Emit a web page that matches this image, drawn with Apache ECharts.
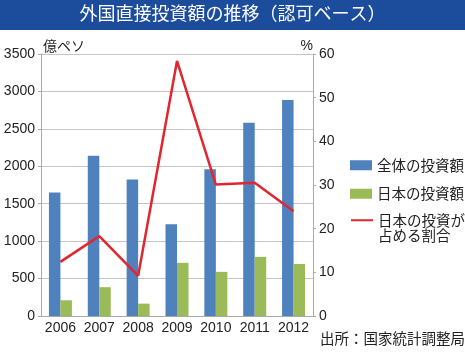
<!DOCTYPE html>
<html>
<head>
<meta charset="utf-8">
<script src="https://cdn.jsdelivr.net/npm/echarts@6/dist/echarts.min.js"></script>
<style>
  html, body { margin: 0; padding: 0; background: #fff; }
  #chart { width: 465px; height: 354px; }
</style>
</head>
<body>
<div id="chart"></div>
<script>
const years = ['2006', '2007', '2008', '2009', '2010', '2011', '2012'];
const totalInvest = [1650, 2140, 1825, 1225, 1960, 2580, 2885];
const japanInvest = [210, 385, 165, 710, 590, 790, 695];
const japanShare = [12.4, 18.3, 9.2, 58.4, 30.1, 30.5, 24.0];

const FONT = '"Liberation Sans", "Noto Sans CJK JP", sans-serif';
const JP = '"Noto Sans CJK JP", sans-serif';

const chart = echarts.init(document.getElementById('chart'));

chart.setOption({
  backgroundColor: '#fff',
  animation: false,
  textStyle: { fontFamily: FONT },
  graphic: [
    { type: 'rect', left: 0, top: 0, shape: { width: 465, height: 30 }, style: { fill: '#1c4c9c' } },
  ],
  title: [
    {
      text: '外国直接投資額の推移（認可ベース）',
      left: 'center', top: 4, padding: 0,
      textStyle: { color: '#fff', fontSize: 18, fontWeight: 'normal', fontFamily: JP },
    },
    {
      text: '出所：国家統計調整局',
      right: 0, top: 331, padding: 0,
      textStyle: { color: '#222', fontSize: 14.5, fontWeight: 'normal', fontFamily: JP },
    },
  ],
  grid: { left: 41, right: 152, top: 54, bottom: 38, outerBoundsMode: 'none' },
  legend: [
    {
      orient: 'vertical', left: 345, top: 153,
      itemWidth: 22, itemHeight: 10, itemGap: 14,
      textStyle: { fontSize: 14.5, color: '#222', fontFamily: JP },
      data: [
        { name: '全体の投資額', icon: 'rect' },
        { name: '日本の投資額', icon: 'rect' },
      ],
    },
    {
      // leading blank line keeps the icon level with the first text line
      orient: 'vertical', left: 345, top: 192,
      itemWidth: 22, itemHeight: 10,
      formatter: name => '\n' + name,
      textStyle: { fontSize: 14.5, color: '#222', fontFamily: JP, lineHeight: 15.5 },
      data: [
        { name: '日本の投資が\n占める割合', itemStyle: { opacity: 0 } },
      ],
    },
  ],
  xAxis: {
    type: 'category', data: years,
    axisLine: { lineStyle: { color: '#aaa' } },
    axisTick: { length: 4, lineStyle: { color: '#aaa' } },
    axisLabel: { color: '#222', fontSize: 14, margin: 5, interval: 0 },
  },
  yAxis: [
    {
      type: 'value', min: 0, max: 3500, interval: 500,
      name: '億ペソ', nameGap: 1,
      nameTextStyle: { align: 'left', color: '#222', fontSize: 14, fontFamily: JP, padding: [0, 0, 0, 2] },
      axisLine: { show: true, lineStyle: { color: '#aaa' } },
      axisTick: { show: true, length: 3, lineStyle: { color: '#aaa' } },
      axisLabel: { color: '#222', fontSize: 14, margin: 6, formatter: v => String(v) },
      splitLine: { lineStyle: { color: '#c4c4c4' } },
    },
    {
      type: 'value', min: 0, max: 60, interval: 10,
      name: '%', nameGap: 1,
      nameTextStyle: { align: 'right', color: '#222', fontSize: 14 },
      axisLine: { show: true, lineStyle: { color: '#aaa' } },
      axisTick: { show: true, length: 3, lineStyle: { color: '#aaa' } },
      axisLabel: { color: '#222', fontSize: 14, margin: 6 },
      splitLine: { show: false },
    },
  ],
  series: [
    {
      name: '全体の投資額', type: 'bar', data: totalInvest,
      barWidth: 11.5, barGap: '0%',
      itemStyle: { color: '#4f81bd' },
    },
    {
      name: '日本の投資額', type: 'bar', data: japanInvest,
      barWidth: 11.5, barGap: '0%',
      itemStyle: { color: '#9bbb59' },
    },
    {
      name: '日本の投資が\n占める割合', type: 'line', data: japanShare, yAxisIndex: 1,
      symbol: 'none',
      lineStyle: { color: '#e1262f', width: 2.5 },
      itemStyle: { color: '#e1262f' },
    },
  ],
});
</script>
</body>
</html>
